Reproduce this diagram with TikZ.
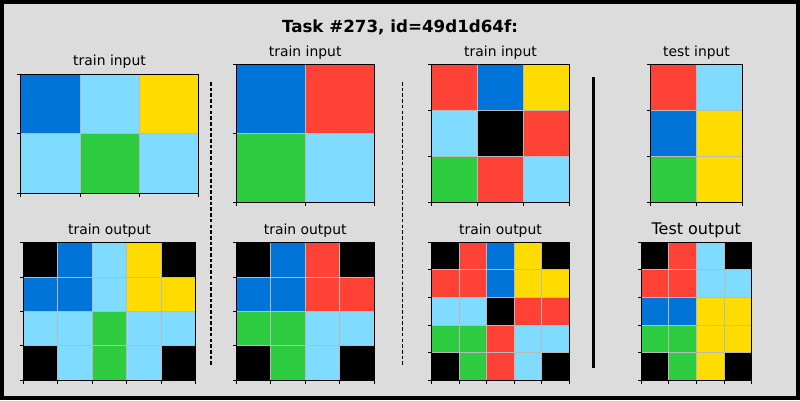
\documentclass[tikz,border=0pt]{standalone}
\usepackage{fontspec}
\setmainfont{DejaVu Sans}
\definecolor{bgc}{RGB}{220,220,220}
\definecolor{arcK}{RGB}{0,0,0}
\definecolor{arcB}{RGB}{0,116,217}
\definecolor{arcR}{RGB}{255,65,54}
\definecolor{arcG}{RGB}{46,204,64}
\definecolor{arcY}{RGB}{255,220,0}
\definecolor{arcL}{RGB}{127,219,255}
\definecolor{gridc}{RGB}{185,185,185}
\tikzset{
  ttl/.style={anchor=base, inner sep=0pt, font=\fontsize{13.9}{16}\selectfont},
  bigttl/.style={anchor=base, inner sep=0pt, font=\fontsize{16}{19}\selectfont},
  sep/.style={line width=1.3pt, dash pattern=on 3.6pt off 2.1pt},
}
% #1 left, #2 top, #3 cell w, #4 cell h, #5 ncols, #6 nrows, #7 rows
\newcommand\arcgrid[7]{%
  \foreach \rw [count=\r from 0] in {#7} {
    \foreach \cc [count=\k from 0] in \rw {
      \fill[arc\cc] ({#1+\k*#3},{#2+\r*#4}) rectangle ++(#3,#4);
    }
  }
  \foreach \k in {1,...,\numexpr#5-1\relax} {
    \draw[gridc, line width=0.8pt] ({#1+\k*#3},#2) -- ++(0,{#6*#4});
  }
  \foreach \r in {1,...,\numexpr#6-1\relax} {
    \draw[gridc, line width=0.8pt] (#1,{#2+\r*#4}) -- ++({#5*#3},0);
  }
  \draw[line width=1pt] (#1,#2) rectangle ++({#5*#3},{#6*#4});
  \foreach \k in {0,...,#5} {
    \draw[line width=0.8pt] ({#1+\k*#3},{#2+#6*#4}) -- ++(0,3.5);
  }
  \foreach \r in {0,...,#6} {
    \draw[line width=0.8pt] (#1,{#2+\r*#4}) -- ++(-3.5,0);
  }
}
\begin{document}
\begin{tikzpicture}[x=1pt,y=-1pt]
\fill[bgc] (0,0) rectangle (800,400);
\useasboundingbox (0,0) rectangle (800,400);
\draw[line width=4pt] (2,2) rectangle (798,398);
\node[anchor=base, inner sep=0pt, font=\fontsize{16.7}{20}\selectfont\bfseries] (title) at (400,32.5) {Task \#273, id=49d1d64f:};

% pair 1
\node[ttl] (t1) at (109.5,65) {train input};
\arcgrid{20.7}{74.3}{59.2}{59.5}{3}{2}{{B,L,Y},{L,G,L}}
\node[ttl] (o1) at (109.5,234) {train output};
\arcgrid{23.3}{242.7}{34.48}{34.33}{5}{4}{{K,B,L,Y,K},{B,B,L,Y,Y},{L,L,G,L,L},{K,L,G,L,K}}

% pair 2
\node[ttl] (t2) at (305.2,56) {train input};
\arcgrid{236}{64}{69.15}{69.15}{2}{2}{{B,R},{G,L}}
\node[ttl] (o2) at (305.2,234) {train output};
\arcgrid{236}{242.7}{34.58}{34.33}{4}{4}{{K,B,R,K},{B,B,R,R},{G,G,L,L},{K,G,L,K}}

% pair 3
\node[ttl] (t3) at (500.5,56) {train input};
\arcgrid{431.7}{64}{45.87}{46.1}{3}{3}{{R,B,Y},{L,K,R},{G,R,L}}
\node[ttl] (o3) at (500.5,234) {train output};
\arcgrid{431.7}{242.3}{27.52}{27.54}{5}{5}{{K,R,B,Y,K},{R,R,B,Y,Y},{L,L,K,R,R},{G,G,R,L,L},{K,G,R,L,K}}

% test
\node[ttl] (t4) at (696.5,56) {test input};
\arcgrid{650.3}{64}{46.2}{46.1}{2}{3}{{R,L},{B,Y},{G,Y}}
\node[bigttl] (o4) at (696.3,234) {Test output};
\arcgrid{641}{242}{27.67}{27.66}{4}{5}{{K,R,L,K},{R,R,L,L},{B,B,Y,Y},{G,G,Y,Y},{K,G,Y,K}}

% separators
\coordinate (s1a) at (211,82); \coordinate (s1b) at (211,366);
\coordinate (s2a) at (402.3,82); \coordinate (s2b) at (402.3,366);
\coordinate (s3a) at (593.7,77); \coordinate (s3b) at (593.7,367.5);
\draw[sep] (s1a) -- (s1b);
\draw[sep] (s2a) -- (s2b);
\draw[line width=3.4pt] (s3a) -- (s3b);
\end{tikzpicture}
\end{document}
